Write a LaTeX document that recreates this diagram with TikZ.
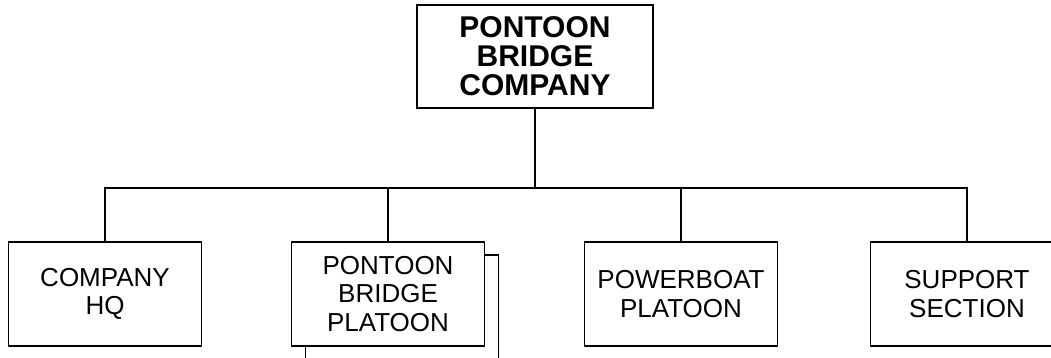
\documentclass[tikz,border=0pt]{standalone}
\usepackage{fontspec}
\setmainfont{Liberation Sans}
\usetikzlibrary{positioning}

\begin{document}
\begin{tikzpicture}[x=1pt, y=-1pt,
		orgbox/.style={draw, line width=1.6pt, fill=white, align=center, inner sep=0pt},
		topbox/.style={orgbox, minimum width=236pt, minimum height=103pt, font=\fontsize{30}{29}\selectfont\bfseries},
		unitbox/.style={orgbox, minimum width=193pt, minimum height=104pt, font=\fontsize{26}{28.5}\selectfont},
		link/.style={line width=1.2pt}]
		
		% Canvas
		\clip (0,0) rectangle (1051,358);
		
		% ---------------------------------------------------------
		% Company
		% ---------------------------------------------------------
		\node[topbox] (company) at (535, 56.5) {PONTOON\\BRIDGE\\COMPANY};
		\coordinate (bus) at (535, 188);
		
		% ---------------------------------------------------------
		% Subordinate units
		% ---------------------------------------------------------
		\node[unitbox] (hq) at (105, 294) {COMPANY\\HQ};
		% Stacked platoon (several of them)
		\node[unitbox] (bridgeback) at (402, 307) {};
		\node[unitbox] (bridge) at (388, 294) {PONTOON\\BRIDGE\\PLATOON};
		\node[unitbox] (boat) at (681, 294) {POWERBOAT\\PLATOON};
		\node[unitbox] (support) at (967, 294) {SUPPORT\\SECTION};
		
		% Connectors
		\draw[link] (company.south) -- (bus);
		\draw[link] (hq.north) -- (hq.north |- bus) -- (support.north |- bus) -- (support.north);
		\draw[link] (bridge.north) -- (bridge.north |- bus);
		\draw[link] (boat.north) -- (boat.north |- bus);
		
	\end{tikzpicture}
\end{document}
